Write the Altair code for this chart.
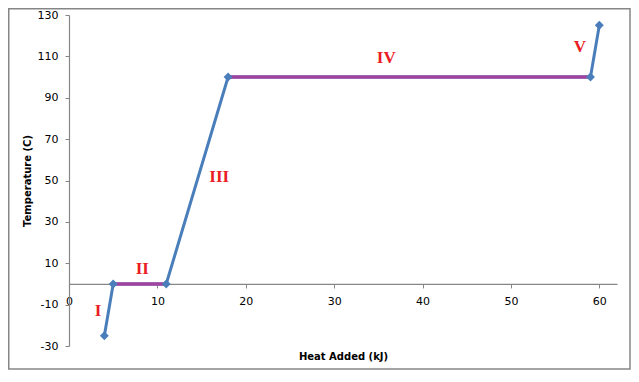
import altair as alt
import pandas as pd

# Heating curve data
heat = [4, 5, 11, 18, 59, 60]
temp = [-25, 0, 0, 100, 100, 125]

# Phase-change plateaus (drawn in purple)
phase_x = [5, 11, 18, 59]
phase_y = [0, 0, 100, 100]
phase_id = ["II", "II", "IV", "IV"]

# Region labels
label_text = ["I", "II", "III", "IV", "V"]
label_x = [3.3, 8.3, 17.0, 35.9, 57.8]
label_y = [-13, 7.3, 51.7, 109.2, 114.5]

x_ticks = [0, 10, 20, 30, 40, 50, 60]
y_ticks = [-30, -10, 10, 30, 50, 70, 90, 110, 130]

W, H = 548, 331
PAD_L, PAD_T = 61, 7
TOTAL_W, TOTAL_H = 623, 362

pts = pd.DataFrame({"heat": heat, "temp": temp})
phases = pd.DataFrame({"heat": phase_x, "temp": phase_y, "phase": phase_id})
labels = pd.DataFrame({"heat": label_x, "temp": label_y, "txt": label_text})

xs = alt.Scale(domain=[0, 62], nice=False, zero=False)
ys = alt.Scale(domain=[-30, 130], nice=False, zero=False)

y0_px = H * (130 / 160)
x_offset = -(H - y0_px)


def X():
    return alt.X(
        "heat:Q",
        scale=xs,
        axis=alt.Axis(
            values=x_ticks,
            title="Heat Added (kJ)",
            offset=x_offset,
            grid=False,
            tickSize=4,
            labelPadding=8,
            labelFlush=False,
            labelExpr="'' + datum.value",
            titleY=73,
            titleBaseline="middle",
        ),
    )


def Y():
    return alt.Y(
        "temp:Q",
        scale=ys,
        axis=alt.Axis(
            values=y_ticks,
            title="Temperature (C)",
            grid=False,
            tickSize=4,
            labelPadding=7,
            labelFlush=False,
            labelExpr="'' + datum.value",
            titleX=-42,
            titleY=H / 2,
            titleBaseline="middle",
        ),
    )


border = (
    alt.Chart(pd.DataFrame({"a": [0]}))
    .mark_rect(fill=None, stroke="#868686", strokeWidth=1.5)
    .encode(
        x=alt.value(-PAD_L + 0.75),
        x2=alt.value(TOTAL_W - PAD_L - 1),
        y=alt.value(-PAD_T + 0.75),
        y2=alt.value(TOTAL_H - PAD_T - 1),
    )
)

blue = alt.Chart(pts).mark_line(color="#4a7ebb", strokeWidth=3).encode(x=X(), y=Y())

purple = (
    alt.Chart(phases)
    .mark_line(color="#a0449f", strokeWidth=3.5)
    .encode(x=X(), y=Y(), detail="phase:N")
)

markers = (
    alt.Chart(pts)
    .mark_point(shape="diamond", filled=True, size=80, color="#4a7ebb", opacity=1)
    .encode(x=X(), y=Y())
)

text = (
    alt.Chart(labels)
    .mark_text(
        font="Liberation Serif",
        fontWeight="bold",
        fontSize=17,
        color="#ea1c24",
        baseline="middle",
        align="center",
    )
    .encode(x=X(), y=Y(), text="txt:N")
)

chart = (
    alt.layer(border, blue, purple, markers, text)
    .properties(
        width=W,
        height=H,
        autosize=alt.AutoSizeParams(type="none"),
        padding={"left": PAD_L, "top": PAD_T, "right": TOTAL_W - PAD_L - W, "bottom": TOTAL_H - PAD_T - H},
    )
    .configure_view(stroke=None)
    .configure_axis(
        domainColor="#868686",
        tickColor="#868686",
        domainWidth=1.2,
        labelColor="#000000",
        labelFont="DejaVu Sans",
        labelFontSize=11,
        titleFont="DejaVu Sans",
        titleFontSize=10,
        titleFontWeight="bold",
        titleColor="#000000",
    )
)

chart.save("out.html", embed_options={"renderer": "svg", "actions": False})
